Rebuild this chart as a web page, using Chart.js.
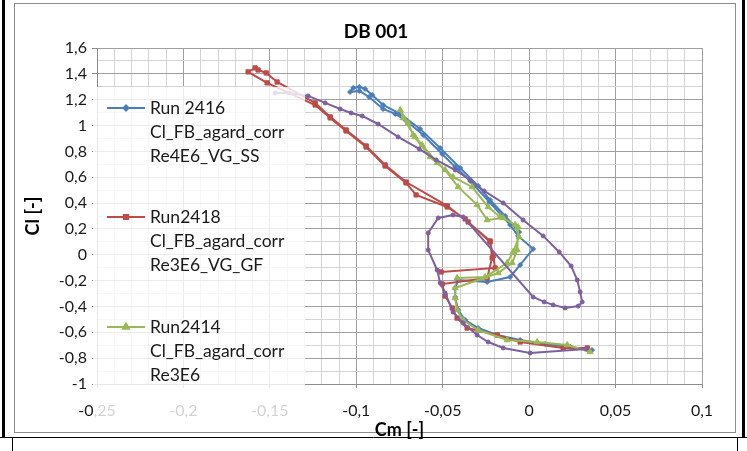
<!DOCTYPE html>
<html>
<head>
<meta charset="utf-8">
<script src="https://cdn.jsdelivr.net/npm/chart.js@4.4.0/dist/chart.umd.min.js"></script>
<style>
  html, body { margin: 0; padding: 0; background: #ffffff; }
  #wrap { position: relative; width: 747px; height: 451px; }
  canvas { display: block; }
</style>
</head>
<body>
<div id="wrap"><canvas id="chart" width="747" height="451"></canvas></div>
<script>
// ---- Series: Cm (x) and Cl (y) per run ----
const run2416Cm = [0.0364, 0.0237, 0.0093, -0.0052, -0.0185, -0.0295, -0.0370, -0.0411, -0.0428, -0.0428,
  -0.0411, -0.0243, -0.0110, -0.0052, 0.0023, -0.0064, -0.0110, -0.0231, -0.0341, -0.0428,
  -0.0503, -0.0613, -0.0717, -0.0775, -0.0845, -0.0926, -0.0983, -0.1036, -0.1018, -0.0983,
  -0.0949, -0.0908, -0.0845, -0.0746, -0.0631, -0.0515, -0.0399, -0.0295, -0.0226, -0.0139, -0.0058];
const run2416Cl = [-0.737, -0.713, -0.690, -0.660, -0.621, -0.567, -0.505, -0.427, -0.327, -0.257,
  -0.195, -0.211, -0.172, -0.079, 0.045, 0.146, 0.231, 0.409, 0.571, 0.680,
  0.780, 0.927, 1.043, 1.090, 1.128, 1.221, 1.268, 1.260, 1.291, 1.299,
  1.283, 1.237, 1.159, 1.090, 0.974, 0.826, 0.672, 0.533, 0.424, 0.300, 0.176];

const run2418Cm = [0.0336, 0.0197, -0.0052, -0.0185, -0.0359, -0.0417, -0.0445, -0.0486, -0.0503, -0.0243,
  -0.0214, -0.0226, -0.0353, -0.0474, -0.0712, -0.0833, -0.0943, -0.1059, -0.1151, -0.1238,
  -0.1458, -0.1521, -0.1568, -0.1585, -0.1626, -0.1516, -0.1238, -0.1151, -0.1059, -0.0943,
  -0.0833, -0.0712, -0.0654, -0.0474, -0.0370, -0.0226, -0.0208, -0.0197, -0.0509];
const run2418Cl = [-0.721, -0.721, -0.675, -0.621, -0.567, -0.490, -0.412, -0.319, -0.226, -0.180,
  -0.025, 0.107, 0.254, 0.378, 0.563, 0.695, 0.842, 0.966, 1.067, 1.175,
  1.337, 1.407, 1.430, 1.446, 1.415, 1.330, 1.159, 1.059, 0.958, 0.834,
  0.687, 0.556, 0.463, 0.370, 0.277, 0.099, -0.009, -0.102, -0.133];

const run2414Cm = [0.0353, 0.0220, 0.0046, -0.0127, -0.0295, -0.0382, -0.0417, -0.0428, -0.0428, -0.0179,
  -0.0098, -0.0069, -0.0064, -0.0150, -0.0243, -0.0301, -0.0411, -0.0486, -0.0573, -0.0671,
  -0.0700, -0.0746, -0.0729, -0.0660, -0.0619, -0.0532, -0.0440, -0.0330, -0.0237, -0.0168,
  -0.0081, -0.0058, -0.0093, -0.0127, -0.0255, -0.0417];
const run2414Cl = [-0.752, -0.698, -0.675, -0.660, -0.582, -0.505, -0.427, -0.334, -0.257, -0.141,
  -0.063, 0.037, 0.215, 0.285, 0.269, 0.386, 0.525, 0.656, 0.757, 0.927,
  1.020, 1.121, 1.059, 0.912, 0.850, 0.711, 0.602, 0.525, 0.370, 0.293,
  0.231, 0.138, 0.022, -0.063, -0.172, -0.180];

const run4Cm = [-0.1470, -0.1388, -0.1278, -0.1180, -0.1093, -0.1030, -0.0966, -0.0874, -0.0758, -0.0636,
  -0.0538, -0.0428, -0.0341, -0.0260, -0.0150, -0.0035, 0.0081, 0.0174, 0.0243, 0.0278,
  0.0295, 0.0307, 0.0284, 0.0208, 0.0139, 0.0087, 0.0023, -0.0382, -0.0440, -0.0526,
  -0.0584, -0.0584, -0.0532, -0.0515, -0.0486, -0.0440, -0.0382, -0.0301, -0.0237, -0.0150,
  0.0006, 0.0330];
const run4Cl = [1.252, 1.252, 1.229, 1.175, 1.128, 1.097, 1.074, 1.012, 0.912, 0.819,
  0.734, 0.656, 0.579, 0.494, 0.401, 0.269, 0.146, 0.022, -0.087, -0.195,
  -0.288, -0.365, -0.397, -0.412, -0.388, -0.365, -0.327, 0.293, 0.308, 0.285,
  0.169, 0.037, -0.118, -0.218, -0.296, -0.443, -0.528, -0.621, -0.675, -0.721,
  -0.760, -0.729];

// ---- Legend text ----
const legendEntries = [
  ['Run 2416', 'Cl_FB_agard_corr', 'Re4E6_VG_SS'],
  ['Run2418', 'Cl_FB_agard_corr', 'Re3E6_VG_GF'],
  ['Run2414', 'Cl_FB_agard_corr', 'Re3E6']
];
const chartTitle = 'DB 001';
const xTitle = 'Cm [-]';
const yTitle = 'Cl [-]';

// ---- Axis ranges ----
const xMin = -0.25, xMax = 0.1, xMajor = 0.05, xMinor = 0.01;
const yMin = -1, yMax = 1.6, yMajor = 0.2, yMinor = 0.1;

const COLORS = { blue: '#4a7ebb', red: '#be4b48', green: '#98b954', purple: '#7d60a0' };

function pts(xs, ys) { return xs.map((x, i) => ({ x: x, y: ys[i] })); }
function isMajor(v, step) { const r = v / step; return Math.abs(r - Math.round(r)) < 1e-6; }
function fmt(v) {
  const s = String(Math.round(v * 100) / 100);
  return (s === '-0' ? '0' : s).replace('.', ',');
}

const FONT = 'Lato, "Open Sans", "Liberation Sans", sans-serif';
Chart.defaults.font.family = FONT;
Chart.defaults.color = '#1a1a1a';

function series(label, data, color, style, radius) {
  return {
    label, data, showLine: true,
    borderColor: color, backgroundColor: color,
    borderWidth: 2, pointStyle: style, pointRadius: radius,
    pointBorderWidth: 1, pointHoverRadius: radius, tension: 0
  };
}

// Excel-style decorations: outer frame, title and the in-plot legend box
const decorations = {
  id: 'decorations',
  beforeDraw(chart) {
    const c = chart.ctx;
    c.save();
    c.fillStyle = '#ffffff';
    c.fillRect(0, 0, chart.width, chart.height);
    c.strokeStyle = '#8c8c8c';
    c.lineWidth = 1;
    c.strokeRect(14.5, 3.5, 721, 429);
    c.strokeStyle = '#000000';
    c.lineWidth = 3;
    c.beginPath();
    c.moveTo(3.5, 0); c.lineTo(3.5, 437);
    c.moveTo(743.5, 0); c.lineTo(743.5, 437);
    c.stroke();
    c.lineWidth = 1;
    c.strokeStyle = '#000';
    c.beginPath();
    c.moveTo(0, 437.5); c.lineTo(747, 437.5);
    c.moveTo(12.5, 437); c.lineTo(12.5, 451);
    c.moveTo(737.5, 437); c.lineTo(737.5, 451);
    c.stroke();
    c.restore();
  },
  afterDraw(chart) {
    const c = chart.ctx;
    c.save();
    // legend box (semi-opaque, so the grid shows faintly through it)
    c.fillStyle = 'rgba(255,255,255,0.80)';
    c.fillRect(93, 87, 212, 333);
    const ds = chart.data.datasets;
    const order = [3, 2, 1];
    const ys = [108, 217, 327];
    c.font = '17.5px ' + FONT;
    c.textBaseline = 'middle';
    c.textAlign = 'left';
    legendEntries.forEach((lines, i) => {
      const d = ds[order[i]];
      const y = ys[i];
      c.strokeStyle = d.borderColor;
      c.lineWidth = 2;
      c.beginPath(); c.moveTo(107, y); c.lineTo(145, y); c.stroke();
      c.fillStyle = d.borderColor;
      Chart.helpers.drawPoint(c, { pointStyle: d.pointStyle, radius: d.pointRadius, borderWidth: 1, rotation: 0 }, 126, y);
      c.fillStyle = '#1a1a1a';
      lines.forEach((t, k) => c.fillText(t, 150, y + k * 24));
    });
    // chart title
    c.font = 'bold 19px ' + FONT;
    c.textAlign = 'center';
    c.fillStyle = '#000';
    c.fillText(chartTitle, 376, 32);
    c.restore();
  }
};

new Chart(document.getElementById('chart'), {
  type: 'scatter',
  data: {
    datasets: [
      series('Run 4', pts(run4Cm, run4Cl), COLORS.purple, 'circle', 2),
      series('Run2414', pts(run2414Cm, run2414Cl), COLORS.green, 'triangle', 3.5),
      series('Run2418', pts(run2418Cm, run2418Cl), COLORS.red, 'rect', 3),
      series('Run 2416', pts(run2416Cm, run2416Cl), COLORS.blue, 'rectRot', 2.5)
    ]
  },
  options: {
    responsive: false,
    animation: false,
    events: [],
    layout: { padding: { left: 22, right: 45, top: 48, bottom: 8 } },
    plugins: { legend: { display: false }, tooltip: { enabled: false }, title: { display: false } },
    scales: {
      x: {
        type: 'linear', min: xMin, max: xMax,
        afterFit(s) { s.height = 59; },
        afterBuildTicks(s) {
          const t = [];
          for (let i = 0; i <= Math.round((xMax - xMin) / xMinor); i++) t.push({ value: +(xMin + i * xMinor).toFixed(4) });
          s.ticks = t;
        },
        ticks: {
          autoSkip: false, maxRotation: 0, padding: 13,
          font: { size: 16 }, color: '#1a1a1a',
          callback: (v) => isMajor(v, xMajor) ? fmt(v) : ''
        },
        grid: {
          color: (ctx) => ctx.tick && isMajor(ctx.tick.value, xMajor) ? '#a0a0a0' : '#d4d4d4',
          tickColor: (ctx) => ctx.tick && isMajor(ctx.tick.value, xMajor) ? '#8c8c8c' : 'rgba(0,0,0,0)',
          tickLength: 4, lineWidth: 1
        },
        border: { color: '#8c8c8c' },
        title: { display: true, text: xTitle, font: { size: 18, weight: 'bold' }, color: '#000', padding: { top: 0, bottom: 2 } }
      },
      y: {
        type: 'linear', min: yMin, max: yMax,
        afterFit(s) { s.width = 75; },
        afterBuildTicks(s) {
          const t = [];
          for (let i = 0; i <= Math.round((yMax - yMin) / yMinor); i++) t.push({ value: +(yMin + i * yMinor).toFixed(4) });
          s.ticks = t;
        },
        ticks: {
          autoSkip: false, padding: 5,
          font: { size: 16 }, color: '#1a1a1a',
          callback: (v) => isMajor(v, yMajor) ? fmt(v) : ''
        },
        grid: {
          color: (ctx) => ctx.tick && isMajor(ctx.tick.value, yMajor) ? '#a0a0a0' : '#d4d4d4',
          tickColor: (ctx) => ctx.tick && isMajor(ctx.tick.value, yMajor) ? '#8c8c8c' : 'rgba(0,0,0,0)',
          tickLength: 5, lineWidth: 1
        },
        border: { color: '#8c8c8c' },
        title: { display: true, text: yTitle, font: { size: 18, weight: 'bold' }, color: '#000', padding: { top: 0, bottom: 0 } }
      }
    }
  },
  plugins: [decorations]
});
</script>
</body>
</html>
